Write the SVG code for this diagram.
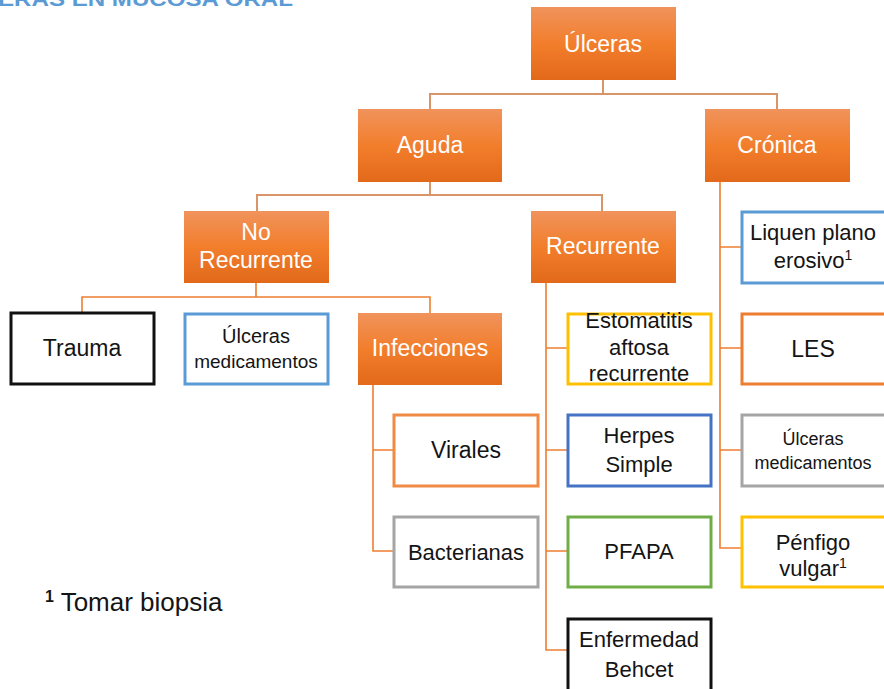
<svg xmlns="http://www.w3.org/2000/svg" width="884" height="689" viewBox="0 0 884 689">
<defs>
<linearGradient id="og" x1="0" y1="0" x2="0" y2="1">
<stop offset="0" stop-color="#F0935C"/>
<stop offset="0.5" stop-color="#F27E2C"/>
<stop offset="1" stop-color="#E2691A"/>
</linearGradient>
<style>
text{font-family:"Liberation Sans",Arial,sans-serif;text-anchor:middle;}
.on rect{fill:url(#og);stroke:none;}
.on text{fill:#FFFFFF;font-size:23px;}
.bx rect{fill:#FFFFFF;stroke-width:3;}
.bx text{fill:#141414;font-size:22px;}
.conA{fill:none;stroke:#D8956A;stroke-width:2;}
.conB{fill:none;stroke:#ED7D31;stroke-width:1.6;}
</style>
</defs>
<rect x="0" y="0" width="884" height="689" fill="#FFFFFF"/>
<text x="-2" y="6" style="text-anchor:start;font-weight:bold;font-size:21px;fill:#5B9BD5" textLength="295" lengthAdjust="spacingAndGlyphs">ERAS EN MUCOSA ORAL</text>
<g id="connectors">
<path class="conA" d="M603 80 V94 M430 109 V94 H777 V109"/>
<path class="conA" d="M430 182 V195 M257 211 V195 H602 V211"/>
<path class="conB" d="M256 283 V297 M82 313 V297 H430 V313"/>
<path class="conB" d="M373 384 V551 H394 M373 450 H394"/>
<path class="conB" d="M546 283 V650 H567 M546 348 H567 M546 450 H567 M546 551 H567"/>
<path class="conB" d="M720 182 V548 H741 M720 247 H741 M720 348 H741 M720 450 H741"/>
</g>
<g id="n-ulceras" class="on"><rect x="531" y="7" width="145" height="73"/><text x="603" y="52">Úlceras</text></g>
<g id="n-aguda" class="on"><rect x="358" y="109" width="144" height="73"/><text x="430" y="153">Aguda</text></g>
<g id="n-cronica" class="on"><rect x="705" y="109" width="145" height="73"/><text x="777" y="153">Crónica</text></g>
<g id="n-norec" class="on"><rect x="184" y="211" width="145" height="72"/><text x="256" y="240">No</text><text x="256" y="268">Recurrente</text></g>
<g id="n-rec" class="on"><rect x="531" y="211" width="145" height="72"/><text x="603" y="254">Recurrente</text></g>
<g id="n-infecciones" class="on"><rect x="358" y="313" width="144" height="72"/><text x="430" y="356">Infecciones</text></g>
<g id="n-trauma" class="bx"><rect x="11" y="313" width="143" height="71" stroke="#111111"/><text x="82" y="356" style="font-size:23px">Trauma</text></g>
<g id="n-ulcmed1" class="bx"><rect x="185" y="314" width="143" height="70" stroke="#5B9BD5"/><text x="256" y="343" style="font-size:20px">Úlceras</text><text x="256" y="368" style="font-size:19px">medicamentos</text></g>
<g id="n-virales" class="bx"><rect x="394" y="415" width="144" height="71" stroke="#F08A45"/><text x="466" y="458" style="font-size:23px">Virales</text></g>
<g id="n-bacterianas" class="bx"><rect x="394" y="517" width="144" height="70" stroke="#A5A5A5"/><text x="466" y="560">Bacterianas</text></g>
<g id="n-estomatitis" class="bx"><rect x="568" y="314" width="143" height="70" stroke="#FFC000"/><text x="639" y="328">Estomatitis</text><text x="639" y="355">aftosa</text><text x="639" y="381">recurrente</text></g>
<g id="n-herpes" class="bx"><rect x="568" y="415" width="143" height="71" stroke="#4472C4"/><text x="639" y="443">Herpes</text><text x="639" y="472">Simple</text></g>
<g id="n-pfapa" class="bx"><rect x="568" y="517" width="143" height="70" stroke="#70AD47"/><text x="639" y="559">PFAPA</text></g>
<g id="n-behcet" class="bx"><rect x="568" y="619" width="143" height="75" stroke="#111111"/><text x="639" y="647">Enfermedad</text><text x="639" y="677">Behcet</text></g>
<g id="n-liquen" class="bx"><rect x="742" y="212" width="150" height="71" stroke="#5B9BD5"/><text x="813" y="240">Liquen plano</text><text x="813" y="268">erosivo<tspan dy="-8" style="font-size:14px">1</tspan></text></g>
<g id="n-les" class="bx"><rect x="742" y="314" width="150" height="70" stroke="#ED7D31"/><text x="813" y="357" style="font-size:23px">LES</text></g>
<g id="n-ulcmed2" class="bx"><rect x="742" y="415" width="150" height="71" stroke="#A5A5A5"/><text x="813" y="445" style="font-size:18px">Úlceras</text><text x="813" y="469" style="font-size:18px">medicamentos</text></g>
<g id="n-penfigo" class="bx"><rect x="742" y="517" width="150" height="70" stroke="#FFC000"/><text x="813" y="550">Pénfigo</text><text x="813" y="576">vulgar<tspan dy="-8" style="font-size:14px">1</tspan></text></g>
<text x="45" y="611" style="text-anchor:start;font-size:26px;fill:#141414"><tspan dy="-9" style="font-size:16px;font-weight:bold">1</tspan><tspan dy="9"> Tomar biopsia</tspan></text>
</svg>
